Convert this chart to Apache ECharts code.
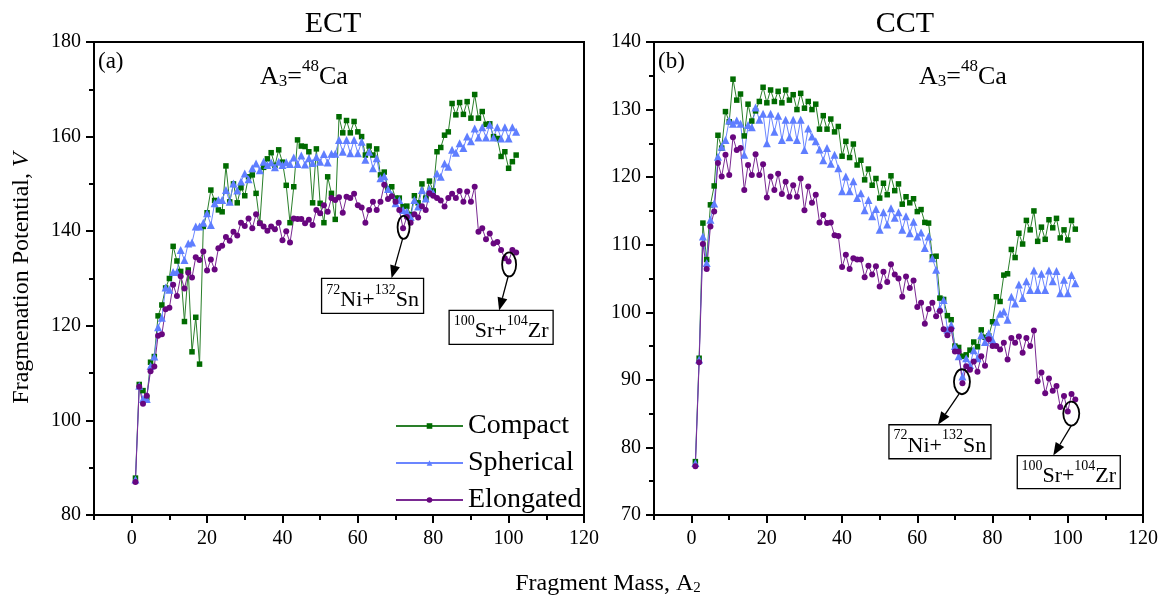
<!DOCTYPE html>
<html><head><meta charset="utf-8">
<script src="https://cdn.jsdelivr.net/npm/echarts@6/dist/echarts.min.js"></script>
<style>html,body{margin:0;padding:0;background:#fff}#c{width:1169px;height:596px}</style>
</head><body><div id="c"></div>
<script>
// Fragment mass A2 = 1 ... 102
const massA2 = [];
for (let a = 1; a <= 102; a++) massA2.push(a);

// (a) ECT panel
const ectCompact = [87.8,107.6,106.3,104.8,112.3,113.5,122.1,124.4,128.0,130.0,
136.8,133.7,131.5,120.9,131.8,114.5,121.8,111.9,141.0,143.9,
148.7,146.5,144.5,144.1,153.8,146.2,150.0,146.0,149.2,147.5,
151.5,151.9,148.0,141.7,153.5,155.3,156.6,153.9,157.2,154.6,
149.7,141.8,149.4,159.3,158.0,157.9,156.8,146.0,157.4,145.9,
141.8,151.5,148.0,142.5,164.2,160.8,163.4,160.8,163.2,161.0,
160.0,156.1,158.0,156.1,157.4,151.9,152.5,149.0,149.4,147.0,
147.0,145.2,145.3,143.5,147.5,146.0,150.0,147.0,150.6,148.5,
156.8,157.7,160.3,161.0,167.0,164.6,167.2,164.7,167.4,163.9,
168.9,163.9,165.3,162.6,162.7,160.0,159.6,155.8,156.8,153.3,
154.7,156.1];
const ectSpherical = [87.5,107.3,104.5,104.5,111.5,113.5,119.7,121.7,128.1,127.6,
131.4,131.4,136.0,133.9,137.4,137.6,141.0,141.0,141.8,143.8,
141.3,145.9,146.6,146.6,148.7,146.2,150.1,148.6,150.5,152.2,
151.0,153.3,154.3,152.9,154.7,154.0,154.5,153.5,154.7,154.0,
154.6,154.2,155.6,154.2,156.0,154.1,155.4,154.4,155.7,154.7,
156.3,154.5,156.4,156.4,159.3,156.8,159.3,156.5,159.3,156.5,
158.9,155.1,156.8,153.3,155.4,151.2,151.6,148.9,147.7,145.9,
146.6,144.5,144.1,143.0,146.6,145.2,148.7,146.9,148.9,148.1,
152.2,151.5,154.3,153.6,157.2,156.6,158.6,157.6,160.0,159.0,
161.7,159.8,162.0,159.8,162.5,159.8,162.0,159.6,162.0,159.6,
162.0,161.0];
const ectElongated = [87.0,107.1,103.5,105.2,110.4,111.4,117.9,118.2,123.5,123.8,
128.7,126.3,130.5,127.9,131.2,130.2,134.5,133.9,135.7,131.7,
134.0,131.9,136.4,136.9,138.8,138.0,139.9,139.1,141.8,141.1,
142.7,140.6,143.6,141.7,141.0,140.1,141.0,140.4,141.8,138.1,
140.0,137.6,142.7,142.6,142.6,141.7,142.4,141.3,144.5,143.8,
145.5,144.1,147.0,146.6,147.2,143.9,147.3,147.0,147.9,145.5,
145.0,141.8,144.5,146.2,144.5,146.2,149.8,146.8,147.4,146.2,
144.5,140.6,143.0,141.8,143.6,142.9,145.3,144.5,148.0,147.5,
147.0,146.5,145.2,147.0,147.9,147.0,148.5,146.2,148.4,146.2,
149.4,139.9,140.6,138.3,139.5,137.4,137.7,136.0,134.3,133.6,
136.0,135.5];

// (b) CCT panel
const cctCompact = [77.9,93.2,113.2,107.8,115.9,118.7,126.2,124.3,129.7,128.2,
134.5,131.4,132.3,126.1,130.8,128.3,129.8,131.2,133.3,131.0,
132.9,131.2,132.7,131.0,132.9,131.4,132.2,130.0,132.4,130.2,
131.2,130.0,130.8,127.1,129.1,127.1,128.6,126.7,127.5,123.1,
125.3,122.9,124.9,121.8,122.5,119.6,121.2,118.8,119.8,116.9,
119.1,117.4,120.2,118.0,119.0,116.0,117.1,116.2,116.8,114.9,
115.2,113.3,113.2,108.2,108.3,102.1,101.9,99.5,98.9,95.0,
94.8,93.5,93.7,94.4,95.6,94.9,97.4,96.3,96.5,98.6,
102.3,101.6,105.5,105.7,109.3,108.1,111.7,110.1,113.6,112.2,
115.0,110.5,112.6,110.8,113.7,112.5,113.9,111.0,112.2,110.7,
113.6,112.3];
const cctSpherical = [77.7,93.0,111.2,107.3,113.7,116.1,123.0,124.5,125.5,128.4,
127.9,128.4,127.9,123.3,127.7,127.4,130.3,128.5,129.4,125.0,
129.4,126.7,129.1,125.5,128.5,125.9,128.5,125.5,128.5,124.0,
127.2,126.0,125.3,124.1,122.5,124.3,122.0,123.3,121.3,117.9,
120.1,117.9,119.4,116.9,117.6,115.1,116.6,114.2,115.3,112.2,
114.8,113.0,115.4,114.0,114.8,112.2,114.2,111.7,113.4,111.2,
111.8,109.5,111.2,108.0,106.3,100.6,101.8,97.4,98.1,95.0,
93.5,90.5,93.2,92.2,94.4,93.2,96.6,95.6,96.9,95.9,
98.6,99.8,100.1,98.9,102.3,101.3,104.1,102.1,104.6,103.3,
106.2,103.3,105.7,103.3,106.2,104.6,106.1,102.8,104.8,102.8,
105.5,104.3];
const cctElongated = [77.2,92.6,110.1,106.4,112.7,114.9,122.1,120.1,123.3,120.3,
125.9,124.0,124.3,118.1,121.8,120.3,123.4,120.3,121.9,117.0,
120.1,118.1,120.5,117.5,119.3,117.1,118.8,117.1,119.8,115.1,
118.6,116.2,117.4,113.3,114.4,113.2,113.3,111.4,111.3,106.7,
108.5,106.4,108.0,107.8,107.8,105.2,106.9,105.6,106.8,103.8,
106.0,104.5,107.1,105.6,105.0,102.3,105.3,103.6,104.7,100.8,
101.4,98.3,100.5,101.4,99.4,100.2,97.5,96.6,97.5,94.2,
94.2,89.5,92.0,91.5,92.7,91.2,93.5,92.1,96.0,95.0,
95.0,94.5,95.5,93.0,96.2,95.5,96.4,94.0,96.2,95.0,
97.3,89.8,91.1,88.0,90.2,88.4,89.1,86.0,87.6,85.3,
87.9,87.1];

// ticks
const xMajorTicks = [0,20,40,60,80,100,120];
const xMinorTicks = [-10,10,30,50,70,90,110];
const ectYMajor = [80,100,120,140,160,180];
const ectYMinor = [90,110,130,150,170];
const cctYMajor = [70,80,90,100,110,120,130,140];
const cctYMinor = [75,85,95,105,115,125,135];

const seriesNames = ['Compact','Spherical','Elongated'];
const panelTitles = ['ECT','CCT'];
const panelTags = ['(a)','(b)'];
// annotated fragmentations: [A2, label]
const marks = [
  {A: 72, text: '{s|72}{n|Ni+}{s|132}{n|Sn}'},
  {A: 100, text: '{s|100}{n|Sr+}{s|104}{n|Zr}'}
];

const FONT = '"Liberation Serif","Times New Roman",serif';
const chart = echarts.init(document.getElementById('c'), null, {renderer:'canvas'});

function pairs(arr){ return massA2.map((a,i)=>[a, arr[i]]); }

function xAxes(g){
  return [
    {type:'value', gridIndex:g, min:-10, max:120, position:'bottom',
     axisLine:{show:true,onZero:false,lineStyle:{color:'#000',width:2}},
     axisTick:{show:true,length:8,customValues:xMajorTicks,lineStyle:{color:'#000',width:2}},
     axisLabel:{show:true,customValues:xMajorTicks,margin:14,color:'#000',fontFamily:FONT,fontSize:20},
     splitLine:{show:false}},
    {type:'value', gridIndex:g, min:-10, max:120, position:'bottom',
     axisLine:{show:false,onZero:false},
     axisTick:{show:true,length:5,customValues:xMinorTicks,lineStyle:{color:'#000',width:2}},
     axisLabel:{show:false}, splitLine:{show:false}}
  ];
}
function yAxes(g,min,max,maj,minr){
  return [
    {type:'value', gridIndex:g, min:min, max:max, position:'left',
     axisLine:{show:true,onZero:false,lineStyle:{color:'#000',width:2}},
     axisTick:{show:true,length:8,customValues:maj,lineStyle:{color:'#000',width:2}},
     axisLabel:{show:true,customValues:maj,margin:13,color:'#000',fontFamily:FONT,fontSize:20},
     splitLine:{show:false}},
    {type:'value', gridIndex:g, min:min, max:max, position:'left',
     axisLine:{show:false,onZero:false},
     axisTick:{show:true,length:5,customValues:minr,lineStyle:{color:'#000',width:2}},
     axisLabel:{show:false}, splitLine:{show:false}}
  ];
}

const styles = [
  {symbol:'rect', size:5.5, color:'#006b00', line:'#2a7f2a'},
  {symbol:'triangle', size:8, color:'#5f7eff', line:'#6b86ff'},
  {symbol:'circle', size:6, color:'#68067f', line:'#7a2a92'}
];
function mkSeries(name, data, xi, yi, st){
  return {name:name, type:'line', xAxisIndex:xi, yAxisIndex:yi, data:pairs(data),
    symbol:st.symbol, symbolSize:st.size, showAllSymbol:true,
    itemStyle:{color:st.color}, lineStyle:{color:st.line,width:1},
    emphasis:{disabled:true}};
}
const ectData = [ectCompact, ectSpherical, ectElongated];
const cctData = [cctCompact, cctSpherical, cctElongated];
const series = [];
seriesNames.forEach((n,i)=>series.push(mkSeries(n, ectData[i], 0, 0, styles[i])));
seriesNames.forEach((n,i)=>series.push(mkSeries(n, cctData[i], 2, 2, styles[i])));

chart.setOption({
  animation:false,
  backgroundColor:'#fff',
  grid:[
    {left:94, top:42, width:490, height:473, show:true, borderColor:'#000', borderWidth:2, containLabel:false},
    {left:654, top:42, width:489, height:473, show:true, borderColor:'#000', borderWidth:2, containLabel:false}
  ],
  xAxis:[...xAxes(0), ...xAxes(1)],
  yAxis:[...yAxes(0,80,180,ectYMajor,ectYMinor), ...yAxes(1,70,140,cctYMajor,cctYMinor)],
  legend:{data:seriesNames, orient:'vertical', left:390, top:407, itemWidth:67, itemHeight:7, itemGap:9,
    textStyle:{fontFamily:FONT,fontSize:28,color:'#000'}, selectedMode:false},
  series:series
});

// ---- annotations / texts ----
const richBox = {
  n:{fontFamily:FONT,fontSize:22,lineHeight:28,verticalAlign:'bottom',fill:'#000'},
  s:{fontFamily:FONT,fontSize:14,lineHeight:14,verticalAlign:'top',fill:'#000'}
};
const richLab = {
  n:{fontFamily:FONT,fontSize:26,lineHeight:32,verticalAlign:'bottom',fill:'#000'},
  s:{fontFamily:FONT,fontSize:17,lineHeight:17,verticalAlign:'top',fill:'#000'},
  b:{fontFamily:FONT,fontSize:17,lineHeight:17,verticalAlign:'bottom',fill:'#000'}
};
function arrow(x1,y1,x2,y2){
  const dx=x2-x1, dy=y2-y1, L=Math.hypot(dx,dy), ux=dx/L, uy=dy/L;
  const hl=13, hw=5;
  const bx=x2-ux*hl, by=y2-uy*hl;
  return [
    {type:'line', z:50, shape:{x1:x1,y1:y1,x2:bx,y2:by}, style:{stroke:'#000',lineWidth:1.3}},
    {type:'polygon', z:50, shape:{points:[[x2,y2],[bx-uy*hw,by+ux*hw],[bx+uy*hw,by-ux*hw]]}, style:{fill:'#000'}}
  ];
}
function annot(xi, yi, A, V, off, text){
  const p = chart.convertToPixel({xAxisIndex:xi, yAxisIndex:yi}, [A, V]);
  const cx = p[0]+off.dx, cy = p[1]+off.dy;
  const out = [];
  out.push({type:'ellipse', z:50, shape:{cx:cx,cy:cy,rx:off.rx,ry:off.ry}, style:{fill:'none',stroke:'#000',lineWidth:1.8}});
  out.push(...arrow(cx+off.ax0, cy+off.ry, cx+off.ax1, cy+off.by));
  const bx = cx+off.bx, by = cy+off.by;
  out.push({type:'rect', z:50, shape:{x:bx,y:by,width:off.bw,height:off.bh}, style:{fill:'#fff',stroke:'#000',lineWidth:1.3}});
  out.push({type:'text', z:51, x:bx+off.bw/2, y:by+off.bh/2+1, style:{text:text, rich:richBox, textAlign:'center', textVerticalAlign:'middle'}});
  return out;
}
const g = [];
g.push(...annot(0,0, marks[0].A, ectElongated[marks[0].A-1], {dx:0.5,dy:-1,rx:6,ry:11.5,ax0:-1,ax1:-12,bx:-82,by:51,bw:102,bh:35}, marks[0].text));
g.push(...annot(0,0, marks[1].A, ectElongated[marks[1].A-1], {dx:0.5,dy:3,rx:7,ry:12,ax0:-1,ax1:-10,bx:-60,by:46,bw:104,bh:34}, marks[1].text));
g.push(...annot(2,2, marks[0].A, cctElongated[marks[0].A-1], {dx:-0.5,dy:-1.5,rx:8,ry:12.5,ax0:-3,ax1:-24,bx:-73,by:43,bw:102,bh:34}, marks[0].text));
g.push(...annot(2,2, marks[1].A, cctElongated[marks[1].A-1], {dx:3.5,dy:2,rx:8,ry:12,ax0:0,ax1:-18,bx:-54,by:42,bw:103,bh:33}, marks[1].text));

// titles and tags
const titleX = [333, 905], tagX = [98, 658], labX = [260, 919];
for (let i=0;i<2;i++){
  g.push({type:'text', x:titleX[i], y:24, style:{text:panelTitles[i], fontFamily:FONT, fontSize:30, fill:'#000', textAlign:'center', textVerticalAlign:'middle'}});
  g.push({type:'text', x:tagX[i], y:62, style:{text:panelTags[i], fontFamily:FONT, fontSize:23, fill:'#000', textAlign:'left', textVerticalAlign:'middle'}});
  g.push({type:'text', x:labX[i], y:74, style:{text:'{n|A}{b|3}{n|=}{s|48}{n|Ca}', rich:richLab, textAlign:'left', textVerticalAlign:'middle'}});
}
// axis titles
g.push({type:'text', x:608, y:581, style:{text:'{n|Fragment Mass, A}{b|2}', rich:{
  n:{fontFamily:FONT,fontSize:24,lineHeight:30,verticalAlign:'bottom',fill:'#000'},
  b:{fontFamily:FONT,fontSize:15,lineHeight:15,verticalAlign:'bottom',fill:'#000'}}, textAlign:'center', textVerticalAlign:'middle'}});
g.push({type:'text', x:22, y:278, rotation:Math.PI/2, style:{text:'{n|Fragmenation Potential, }{i|V}', rich:{
  n:{fontFamily:FONT,fontSize:24,fill:'#000'},
  i:{fontFamily:FONT,fontSize:24,fontStyle:'italic',fill:'#000'}}, textAlign:'center', textVerticalAlign:'middle'}});

chart.setOption({graphic:{elements:g}});
</script></body></html>
